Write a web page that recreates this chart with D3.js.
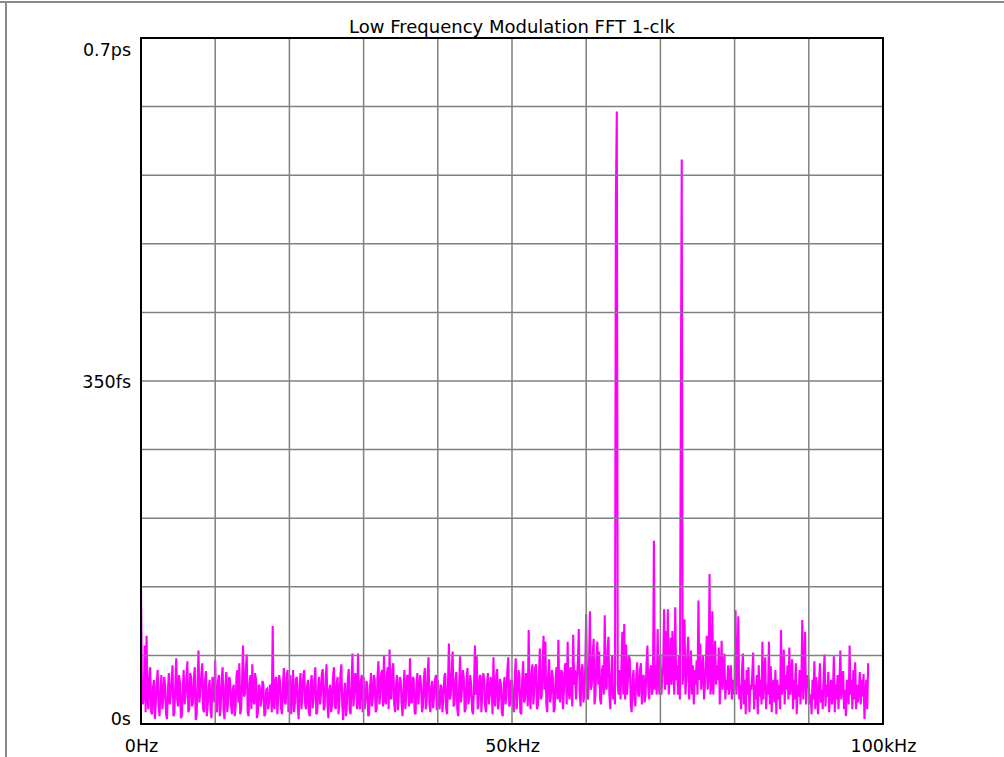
<!DOCTYPE html>
<html>
<head>
<meta charset="utf-8">
<script src="https://cdn.jsdelivr.net/npm/d3@7"></script>
<style>
  html, body { margin: 0; padding: 0; background: #fff; }
  svg { display: block; }
  text { font-family: "DejaVu Sans", Verdana, sans-serif; fill: #000; }
</style>
</head>
<body>
<svg id="chart" width="1004" height="757"></svg>
<script>
// ---- data (values in fs, one bin every 0.125 kHz starting at 0 Hz) ----
const chartTitle = "Low Frequency Modulation FFT 1-clk";
const binStepKHz = 0.125;
const seg0to10kHz = [137,40,20,30,80,12,90,25,15,48, 58,12,10,38,45,5,22,42,55,18,
  8,35,50,15,25,48,40,10,5,33, 52,20,30,45,60,8,12,40,67,25,
  18,50,42,6,8,36,55,20,28,44, 64,12,15,52,48,18,22,46,58,4,
  10,40,75,22,35,50,62,15,12,45, 54,8,20,38,45,14,6,48,40,22];
const seg10to20kHz = [65,18,12,44,50,8,20,46,58,15, 5,40,53,12,25,48,45,20,10,36,
  40,8,18,50,55,22,62,10,15,45, 80,28,30,55,71,12,8,42,50,15,
  61,25,20,52,45,6,12,40,38,18, 25,44,40,8,10,35,36,15,22,40,
  38,12,100,20,15,46,48,10,28,50, 42,16,10,38,57,22,20,48,55,12];
const seg20to30kHz = [35,50,10,28,55,12,22,46,48,18, 5,40,52,15,30,50,55,20,15,38,
  45,12,8,42,50,16,25,46,58,10, 12,38,48,20,30,52,56,14,18,44,
  61,22,6,35,40,12,20,48,58,18, 15,42,48,10,25,50,61,20,4,30,
  42,8,20,46,56,14,10,40,72,18, 30,52,45,15,72,25,15,44,50,12];
const seg30to40kHz = [48,15,22,44,40,8,10,38,52,18, 28,50,45,12,15,48,64,20,30,52,
  55,18,70,25,20,50,58,15,76,28, 25,55,62,20,12,40,50,14,32,48,
  45,20,8,36,55,15,30,50,48,18, 67,22,22,48,46,12,10,40,52,20,
  35,50,40,12,18,46,57,15,25,50, 68,20,12,38,44,16,28,45,50,14];
const seg40to50kHz = [45,22,15,40,38,12,25,48,52,16, 10,42,82,25,30,55,74,18,20,46,
  53,15,8,38,69,22,35,55,48,12, 15,44,57,20,28,50,40,14,10,36,
  80,30,69,15,22,48,50,12,35,52, 45,18,12,40,52,20,30,48,40,10,
  68,25,18,50,56,15,25,46,42,12, 8,38,48,20,30,55,68,18,20,44];
const seg50to60kHz = [44,20,12,48,67,15,30,55,50,12, 10,45,64,22,25,52,45,18,96,30,
  15,50,61,20,35,58,61,15,20,48, 77,25,28,60,90,35,84,20,12,50,
  66,22,30,55,48,12,15,46,58,25, 86,30,22,55,53,15,35,60,62,20,
  84,35,25,58,40,18,91,40,55,25, 45,62,97,30,18,55,61,22,30,58];
const seg60to70kHz = [112,30,25,60,115,35,40,70,87,20, 30,65,84,40,74,25,20,55,60,30,
  111,40,35,75,89,30,15,50,70,25, 40,20,535,625,40,30,55,25,60,94,
  30,102,25,81,30,45,70,66,20,12, 45,55,25,18,50,63,30,28,55,62,
  20,48,50,22,30,60,80,35,25,55, 60,30,40,187,35,60,30,97,45,30];
const seg70to80kHz = [71,30,45,60,117,35,95,40,117,30, 50,88,40,95,55,30,119,45,60,30,
  70,25,316,576,40,60,107,30,45,70, 89,25,50,75,30,60,20,55,40,65,
  30,126,45,82,35,50,70,25,40,60, 90,35,50,153,30,40,115,30,55,85,
  40,60,45,78,20,50,85,35,50,72, 25,45,35,60,30,50,60,25,45,30];
const seg80to90kHz = [40,116,30,50,110,25,40,15,55,72, 20,45,10,55,30,58,12,40,35,50,
  73,15,40,25,50,10,60,28,45,20, 84,25,50,68,15,40,30,84,20,59,
  12,40,45,22,55,10,45,25,40,15, 96,30,40,76,20,50,35,60,25,78,
  30,50,66,15,45,25,62,10,40,28, 55,20,45,106,25,50,94,20,40,50];
const seg90to98kHz = [42,20,30,10,45,25,64,15,48,30, 10,40,62,22,35,15,50,71,18,40,
  28,53,12,35,45,20,30,69,12,40, 25,50,15,40,75,25,45,54,15,35,
  8,45,30,20,80,30,45,15,55,25, 63,15,40,22,35,53,20,45,28,51,
  5,30,45,15,62];

const xTickValues = [0, 50, 100];
const xTickLabels = ["0Hz", "50kHz", "100kHz"];
const yTickValues = [0, 350, 700];
const yTickLabels = ["0s", "350fs", "0.7ps"];
const xGridValues = [0,10,20,30,40,50,60,70,80,90,100];
const yGridValues = [0,70,140,210,280,350,420,490,560,630,700];

(function () {
  // ---- build series ----
  const amplitudes = [].concat(seg0to10kHz, seg10to20kHz, seg20to30kHz, seg30to40kHz, seg40to50kHz,
    seg50to60kHz, seg60to70kHz, seg70to80kHz, seg80to90kHz, seg90to98kHz);
  const series = amplitudes.map((v, i) => ({ f: i * binStepKHz, v: v }));

  // ---- layout ----
  const svg = d3.select("#chart");
  const pL = 141, pR = 883, pT = 38, pB = 724;
  const x = d3.scaleLinear().domain([0, 100]).range([pL, pR]);
  const y = d3.scaleLinear().domain([0, 700]).range([pB, pT]);

  // outer window frame
  svg.append("line").attr("x1", 0).attr("x2", 1004).attr("y1", 2).attr("y2", 2)
    .attr("stroke", "#8a8a8a").attr("stroke-width", 2);
  svg.append("line").attr("x1", 6).attr("x2", 6).attr("y1", 2).attr("y2", 757)
    .attr("stroke", "#8a8a8a").attr("stroke-width", 2);

  // title
  svg.append("text").attr("x", (pL + pR) / 2).attr("y", 33)
    .attr("text-anchor", "middle").style("font-size", "18px").text(chartTitle);

  // data line
  const line = d3.line().x(d => x(d.f)).y(d => y(d.v));
  svg.append("path").datum(series)
    .attr("d", line)
    .attr("fill", "none")
    .attr("stroke", "#ff00ff")
    .attr("stroke-width", 2.1);

  // grid (drawn over the trace, as in the reference)
  const grid = svg.append("g");
  grid.selectAll("line.vx").data(xGridValues.slice(1, -1)).join("line")
    .attr("x1", d => x(d)).attr("x2", d => x(d)).attr("y1", pT).attr("y2", pB)
    .attr("stroke", "#808080").attr("stroke-width", 1.5);
  grid.selectAll("line.hy").data(yGridValues.slice(1, -1)).join("line")
    .attr("x1", pL).attr("x2", pR).attr("y1", d => y(d)).attr("y2", d => y(d))
    .attr("stroke", "#808080").attr("stroke-width", 1.5);

  // plot border
  svg.append("rect").attr("x", pL).attr("y", pT)
    .attr("width", pR - pL).attr("height", pB - pT)
    .attr("fill", "none").attr("stroke", "#000").attr("stroke-width", 2);

  // x axis labels
  const xAxis = d3.axisBottom(x).tickValues(xTickValues)
    .tickFormat((d, i) => xTickLabels[i]).tickSize(0).tickPadding(16);
  const gx = svg.append("g").attr("transform", `translate(0,${pB})`).call(xAxis);
  gx.select(".domain").remove();
  gx.selectAll("text").style("font-size", "17.5px").style("font-family", "DejaVu Sans, Verdana, sans-serif");

  // y axis labels
  const yAxis = d3.axisLeft(y).tickValues(yTickValues)
    .tickFormat((d, i) => yTickLabels[i]).tickSize(0).tickPadding(10);
  const gy = svg.append("g").attr("transform", `translate(${pL},0)`).call(yAxis);
  gy.select(".domain").remove();
  gy.selectAll("text").style("font-size", "17.5px").style("font-family", "DejaVu Sans, Verdana, sans-serif")
    .attr("dy", d => d === 700 ? "1.0em" : d === 0 ? "0.05em" : "0.38em");
})();
</script>
</body>
</html>
